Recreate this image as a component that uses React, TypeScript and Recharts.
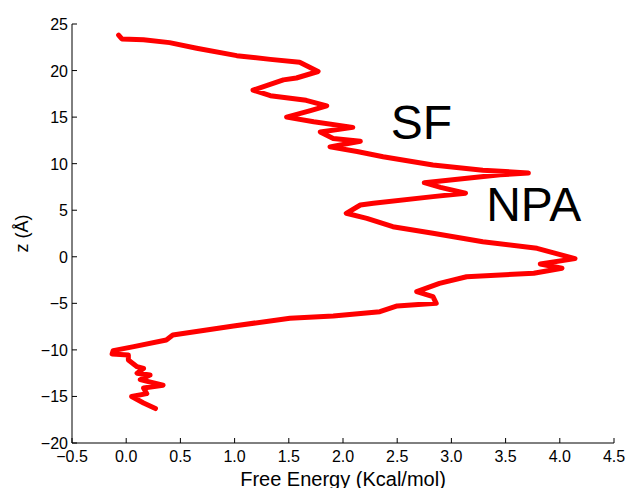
import React from 'react';
import { ScatterChart, Scatter, XAxis, YAxis, ReferenceDot } from 'recharts';

// free energy profile along the pore axis, read top to bottom
const energy = [
  -0.07, -0.04, 0.16, 0.4, 0.65, 1.02, 1.33, 1.6, 1.77, 1.57, 1.45, 1.17, 1.33, 1.66, 1.85, 1.7, 1.48, 1.73,
  2.09, 1.79, 1.91, 2.16, 1.88, 2.13, 2.37, 2.83, 3.29, 3.71, 3.45, 2.75, 2.9, 3.13, 2.83, 2.28, 2.16, 2.03,
  2.22, 2.46, 2.83, 3.29, 3.79, 4.14, 3.82, 4.02, 3.76, 3.14, 2.89, 2.68, 2.83, 2.86, 2.5, 2.34, 1.91, 1.51,
  0.99, 0.43, 0.37, 0.07, -0.12, -0.13, 0.02, 0.02, 0.1, 0.16, 0.1, 0.22, 0.13, 0.34, 0.16, 0.19, 0.05, 0.16,
  0.27,
];
const zPos = [
  23.8, 23.4, 23.3, 23.0, 22.4, 21.6, 21.2, 20.9, 19.9, 19.2, 19.0, 17.9, 17.3, 16.8, 16.2, 15.7, 15.0, 14.5,
  13.9, 13.4, 12.7, 12.4, 11.8, 11.3, 10.75, 9.86, 9.3, 9.0, 8.8, 7.96, 7.46, 6.82, 6.46, 5.74, 5.56, 4.67,
  4.13, 3.23, 2.52, 1.62, 0.91, -0.2, -0.77, -1.24, -1.77, -2.14, -2.85, -3.75, -4.28, -5.0, -5.28, -5.9,
  -6.36, -6.6, -7.43, -8.4, -8.94, -9.65, -10.08, -10.44, -10.55, -11.08, -11.8, -12.0, -12.5, -12.7, -13.2,
  -13.8, -14.1, -14.7, -15.0, -15.7, -16.3,
];

const xTicks = [-0.5, 0, 0.5, 1, 1.5, 2, 2.5, 3, 3.5, 4, 4.5];
const yTicks = [-20, -15, -10, -5, 0, 5, 10, 15, 20, 25];

const regionLabels = [
  { text: 'SF', x: 2.45, z: 12.55 },
  { text: 'NPA', x: 3.33, z: 3.77 },
];

const points = energy.map((e, i) => ({ e, z: zPos[i] }));

const FONT = '"Liberation Sans", Arial, Helvetica, sans-serif';
const TICK_LEN = 5;

const fmt = (v: number, digits: number) => {
  const s = v.toFixed(digits);
  return v < 0 ? '\u2212' + s.slice(1) : s;
};

function BottomTick({ x, y, payload }: any) {
  return (
    <g>
      <line x1={x} y1={y} x2={x} y2={y - TICK_LEN} stroke="#000" />
      <text x={x} y={y + 19} textAnchor="middle" fontSize={16} fontFamily={FONT} fill="#000">
        {fmt(payload.value, 1)}
      </text>
    </g>
  );
}

function TopTick({ x, y }: any) {
  return <line x1={x} y1={y} x2={x} y2={y + TICK_LEN} stroke="#000" />;
}

function LeftTick({ x, y, payload }: any) {
  return (
    <g>
      <line x1={x} y1={y} x2={x + TICK_LEN} y2={y} stroke="#000" />
      <text x={x - 4} y={y + 6} textAnchor="end" fontSize={16} fontFamily={FONT} fill="#000">
        {fmt(payload.value, 0)}
      </text>
    </g>
  );
}

function RightTick({ x, y }: any) {
  return <line x1={x} y1={y} x2={x - TICK_LEN} y2={y} stroke="#000" />;
}

export default function App() {
  return (
    <div style={{ position: 'absolute', left: 0, top: 0, background: '#fff' }}>
      <ScatterChart width={626} height={488} margin={{ top: 24, right: 12, bottom: 0, left: 0 }}>
        <XAxis
          xAxisId="b"
          type="number"
          dataKey="e"
          domain={[-0.5, 4.5]}
          ticks={xTicks}
          height={45}
          tickSize={0}
          tickMargin={0}
          tickLine={false}
          axisLine={{ stroke: '#000' }}
          tick={<BottomTick />}
          interval={0}
          allowDataOverflow
          label={{
            value: 'Free Energy (Kcal/mol)',
            position: 'insideBottom',
            offset: 2,
            fontSize: 20,
            fontFamily: FONT,
            fill: '#000',
          }}
        />
        <XAxis
          xAxisId="t"
          orientation="top"
          type="number"
          domain={[-0.5, 4.5]}
          ticks={xTicks}
          height={0}
          tickSize={0}
          tickMargin={0}
          tickLine={false}
          axisLine={{ stroke: '#000' }}
          tick={<TopTick />}
          interval={0}
          allowDataOverflow
        />
        <YAxis
          yAxisId="l"
          type="number"
          dataKey="z"
          domain={[-20, 25]}
          ticks={yTicks}
          width={72}
          tickSize={0}
          tickMargin={0}
          tickLine={false}
          axisLine={{ stroke: '#000' }}
          tick={<LeftTick />}
          interval={0}
          allowDataOverflow
          label={{
            value: 'z (\u00C5)',
            angle: -90,
            position: 'insideLeft',
            offset: 22,
            fontSize: 18,
            fontFamily: FONT,
            fill: '#000',
            style: { textAnchor: 'middle' },
          }}
        />
        <YAxis
          yAxisId="r"
          orientation="right"
          type="number"
          domain={[-20, 25]}
          ticks={yTicks}
          width={0}
          tickSize={0}
          tickMargin={0}
          tickLine={false}
          axisLine={{ stroke: '#000' }}
          tick={<RightTick />}
          interval={0}
          allowDataOverflow
        />
        <Scatter
          xAxisId="b"
          yAxisId="l"
          data={points}
          line={{ stroke: '#ff0000', strokeWidth: 5, strokeLinejoin: 'round', strokeLinecap: 'round' }}
          lineType="joint"
          shape={() => <g />}
          isAnimationActive={false}
        />
        {regionLabels.map((r) => (
          <ReferenceDot
            key={r.text}
            xAxisId="b"
            yAxisId="l"
            x={r.x}
            y={r.z}
            r={1}
            fill="none"
            stroke="none"
            label={{
              content: ({ viewBox }: any) => (
                <text x={viewBox.x} y={viewBox.y} fontSize={48} fontFamily={FONT} fill="#000">
                  {r.text}
                </text>
              ),
            }}
          />
        ))}
      </ScatterChart>
    </div>
  );
}
